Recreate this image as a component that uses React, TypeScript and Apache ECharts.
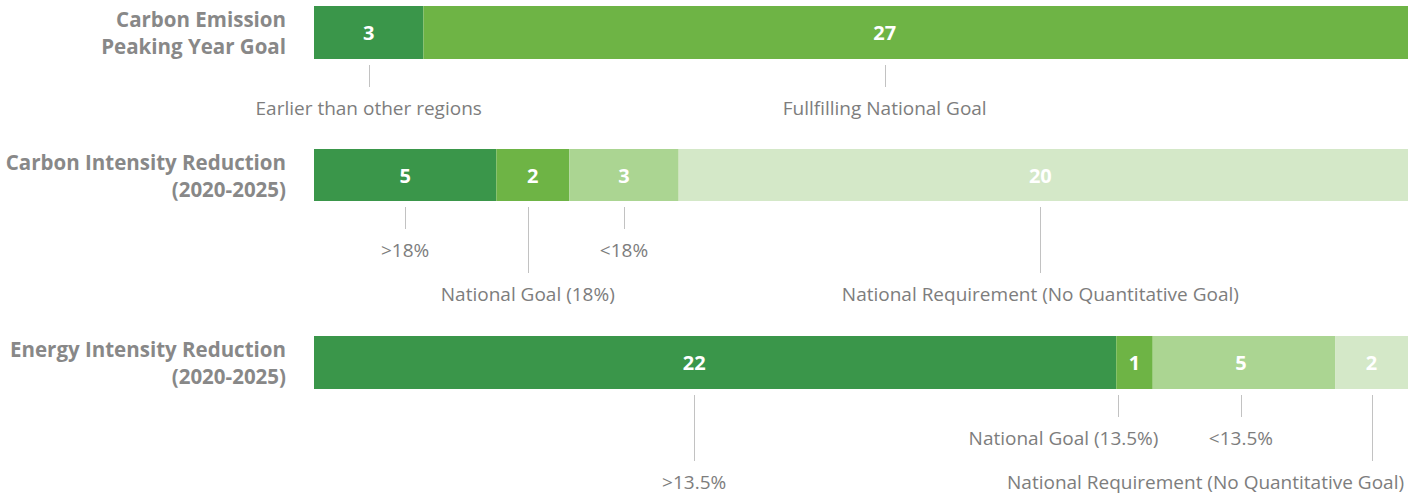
import React, { useEffect, useRef } from "react";
import * as echarts from "echarts";

// ---- data ----
const rowLabels = [
  "Carbon Emission\nPeaking Year Goal",
  "Carbon Intensity Reduction\n(2020-2025)",
  "Energy Intensity Reduction\n(2020-2025)",
];
const peakValues = [3, 27];
const peakNotes = ["Earlier than other regions", "Fullfilling National Goal"];
const carbonValues = [5, 2, 3, 20];
const carbonNotes = [">18%", "National Goal (18%)", "<18%", "National Requirement (No Quantitative Goal)"];
const energyValues = [22, 1, 5, 2];
const energyNotes = [">13.5%", "National Goal (13.5%)", "<13.5%", "National Requirement (No Quantitative Goal)"];
const totalRegions = 30;

// ---- styles ----
const segColors = ["#3A964A", "#6EB445", "#ABD592", "#D4E8C8"];
const gridTops = [6, 149, 336];
const gridHeights = [53, 52, 53];
const labelShift = [[0, -31], [0, 0, 0, -3], [-21, 0, -3, 0]];
const lineShift = [[0, -31], [0, -5, 0, -3], [-21, -17, -3, 0]];
const longLine = [[false, false], [false, true, false, true], [true, false, false, true]];
const noteTextShift = [[0, 0], [0, 0, 0, 0], [0, -54, 0, -166]];
const FONT = '"Open Sans", "Noto Sans", sans-serif';

const rows = [
  { values: peakValues, notes: peakNotes },
  { values: carbonValues, notes: carbonNotes },
  { values: energyValues, notes: energyNotes },
];

export default function App() {
  const ref = useRef<HTMLDivElement>(null);
  useEffect(() => {
    if (!ref.current) return;
    const chart = echarts.init(ref.current, null, { renderer: "svg" });
    const grid: any[] = [];
    const xAxis: any[] = [];
    const yAxis: any[] = [];
    const series: any[] = [];
    rows.forEach((row, r) => {
      grid.push({ left: 314, right: 0, top: gridTops[r], height: gridHeights[r] });
      xAxis.push({ gridIndex: r, type: "value", min: 0, max: totalRegions, show: false });
      yAxis.push({
        gridIndex: r,
        type: "category",
        data: [rowLabels[r]],
        axisLine: { show: false },
        axisTick: { show: false },
        axisLabel: {
          margin: 28,
          color: "#888888",
          fontWeight: "bold",
          fontSize: 20.5,
          fontFamily: FONT,
          lineHeight: 27,
          align: "right",
        },
      });
      const centers: number[] = [];
      let acc = 0;
      row.values.forEach((v, i) => {
        centers.push(acc + v / 2);
        acc += v;
        series.push({
          type: "bar",
          xAxisIndex: r,
          yAxisIndex: r,
          stack: "row" + r,
          barWidth: "100%",
          data: [v],
          itemStyle: { color: segColors[i] },
          label: {
            show: true,
            position: "inside",
            offset: [labelShift[r][i], 0],
            color: "#ffffff",
            fontWeight: "bold",
            fontSize: 20,
            fontFamily: FONT,
            formatter: "{c}",
          },
          silent: true,
        });
      });
      series.push({
        type: "custom",
        xAxisIndex: r,
        yAxisIndex: r,
        clip: false,
        silent: true,
        data: centers.map((c, i) => [c, i]),
        renderItem: (params: any, api: any) => {
          const xv = api.value(0);
          const ni = api.value(1);
          const c = api.coord([xv, 0]);
          const bandH = api.size([0, 1])[1];
          const bottom = c[1] + bandH / 2;
          const cx = c[0] + lineShift[r][ni];
          const lx = Math.round(cx) + 0.5;
          const y1 = bottom + 6;
          const y2 = y1 + (longLine[r][ni] ? 66 : 22);
          const ty = y2 + 21;
          return {
            type: "group",
            children: [
              {
                type: "line",
                shape: { x1: lx, y1, x2: lx, y2 },
                style: { stroke: "#c2c2c2", lineWidth: 1 },
              },
              {
                type: "text",
                x: cx + noteTextShift[r][ni],
                y: ty,
                style: {
                  text: row.notes[ni],
                  fill: "#7d7d7d",
                  fontSize: 19,
                  fontFamily: FONT,
                  align: "center",
                  verticalAlign: "middle",
                },
              },
            ],
          };
        },
      });
    });
    chart.setOption({ animation: false, grid, xAxis, yAxis, series });
    return () => chart.dispose();
  }, []);
  return (
    <div
      ref={ref}
      style={{ position: "absolute", left: 0, top: 0, width: 1408, height: 495, background: "#fff" }}
    />
  );
}
